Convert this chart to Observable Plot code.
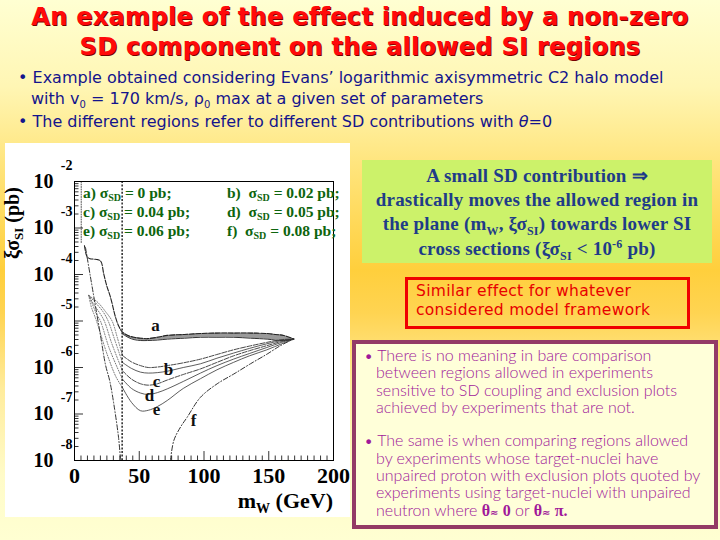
<!DOCTYPE html>
<html><head><meta charset="utf-8">
<script src="https://cdn.jsdelivr.net/npm/d3@7"></script>
<script src="https://cdn.jsdelivr.net/npm/@observablehq/plot@0.6"></script>
<style>
body{margin:0;width:720px;height:540px;overflow:hidden;position:relative;
 background:linear-gradient(to bottom,#FFFFD2 0%,#FFF6B4 16%,#FFE57E 30%,#FFCF3C 50%,#FFD452 58%,#FFEC9C 72%,#FFFBC8 88%,#FFFFD2 100%);
 font-family:"DejaVu Sans",sans-serif;}
.abs{position:absolute;}
sub,sup{line-height:0;}
#title{top:2px;left:0;width:720px;text-align:center;color:#FF0A0A;font-weight:bold;font-size:24px;line-height:30px;letter-spacing:0.3px;
 text-shadow:1px 1px 0 #7a0000;}
.bul{color:#14148C;font-size:16px;white-space:nowrap;}
#green{left:362px;top:160px;width:350px;height:103px;background:#CCF26A;text-align:center;color:#1F3C88;
 font-family:"Liberation Serif",serif;font-weight:bold;font-size:19px;line-height:24.2px;letter-spacing:0.2px;box-sizing:border-box;padding-top:4px;white-space:nowrap;}
#red{left:405px;top:277px;width:285px;height:52px;border:3px solid #F00000;box-sizing:border-box;color:#E80000;
 font-size:15.5px;line-height:18.5px;padding:2px 0 0 8px;letter-spacing:0.3px;white-space:nowrap;}
#purple{left:352px;top:340px;width:366px;height:189px;border:4px solid #943A66;box-sizing:border-box;background:#FFFFD9;
 color:#A0189A;font-family:"Lato","DejaVu Sans",sans-serif;font-weight:300;font-size:16px;line-height:17.4px;padding:2px 4px 0 7px;white-space:nowrap;}
#purple p{margin:0 0 15.5px 0;padding-left:13px;text-indent:-12px;}
.sym{font-family:"Liberation Serif",serif;font-weight:bold;}
.approx{font-family:"DejaVu Sans",sans-serif;font-weight:bold;font-size:10px;}
#chart{left:5px;top:143px;}
</style></head><body>
<div id="title" class="abs">An example of the effect induced by a non-zero<br>SD component on the allowed SI regions</div>
<div class="abs bul" style="left:18px;top:68px;">• Example obtained considering Evans’ logarithmic axisymmetric C2 halo model</div>
<div class="abs bul" style="left:31px;top:89px;">with v<sub style="font-size:10px">0</sub> = 170 km/s, ρ<sub style="font-size:10px">0</sub> max at a given set of parameters</div>
<div class="abs bul" style="left:18px;top:112px;">• The different regions refer to different SD contributions with <i>θ</i>=0</div>
<div id="green" class="abs">A small SD contribution ⇒<br>drastically moves the allowed region in<br>the plane (m<sub style="font-size:12px">W</sub>, ξσ<sub style="font-size:12px">SI</sub>) towards lower SI<br>cross sections (ξσ<sub style="font-size:12px">SI</sub> &lt; 10<sup style="font-size:12px">-6</sup> pb)</div>
<div id="red" class="abs">Similar effect for whatever<br>considered model framework</div>
<div id="purple" class="abs">
<p>• There is no meaning in bare comparison<br>between regions allowed in experiments<br>sensitive to SD coupling and exclusion plots<br>achieved by experiments that are not.</p>
<p>• The same is when comparing regions allowed<br>by experiments whose target-nuclei have<br>unpaired proton with exclusion plots quoted by<br>experiments using target-nuclei with unpaired<br>neutron where <span class="sym">θ</span><span class="approx">≈</span> <span class="sym">0</span> or <span class="sym">θ</span><span class="approx">≈</span> <span class="sym">π.</span></p>
</div>
<div id="chart" class="abs"></div>
<script>
// ---- data (mW in GeV, log10 of xi*sigma_SI in pb) ----
const xTicks = [0, 50, 100, 150, 200];
const yDecades = [-8, -7, -6, -5, -4, -3, -2];
const envLeft = [[7.7,-3.38],[8.6,-3.52],[9.8,-3.62],[12,-3.66],[15,-3.67],[18,-3.68],[20.4,-3.72],[22.6,-3.99],[25,-4.25],[27.8,-4.49],[31.7,-4.92],[34.3,-5.12]];
const bandX = [37.1,42,46,51.2,56.3,64,71.7,85,97.3,110,123,136,148.8,155,161.6,169.3];
const bandTop = [-5.24,-5.32,-5.35,-5.37,-5.38,-5.35,-5.31,-5.29,-5.27,-5.26,-5.26,-5.26,-5.27,-5.29,-5.31,-5.39];
const bandBottom = [-5.28,-5.36,-5.40,-5.42,-5.42,-5.41,-5.39,-5.37,-5.35,-5.35,-5.35,-5.37,-5.39,-5.41,-5.42,-5.39];
const lowerX = [37,44,51,57,64,71.6,84,97.3,110,122.8,135,148.5,160,169.3];
const lower1 = [-5.74,-5.88,-5.96,-6.00,-5.99,-5.96,-5.90,-5.82,-5.72,-5.62,-5.54,-5.46,-5.40,-5.39];
const lower2 = [-5.89,-6.02,-6.10,-6.12,-6.11,-6.08,-6.00,-5.92,-5.80,-5.69,-5.59,-5.49,-5.42,-5.39];
const lower3 = [-6.07,-6.25,-6.35,-6.38,-6.35,-6.27,-6.15,-6.03,-5.89,-5.75,-5.64,-5.53,-5.44,-5.39];
const lower4 = [-6.25,-6.45,-6.55,-6.58,-6.54,-6.46,-6.30,-6.12,-5.96,-5.82,-5.70,-5.57,-5.46,-5.39];
const lower5 = [-6.43,-6.75,-6.93,-6.92,-6.84,-6.71,-6.45,-6.24,-6.05,-5.89,-5.75,-5.62,-5.49,-5.39];
const left1 = [[11,-4.45],[18,-4.6],[24,-4.8],[29,-5.0],[33,-5.35],[37,-5.74]];
const left2 = [[11,-4.45],[16,-4.6],[22,-4.8],[26,-5.0],[31,-5.4],[37,-5.89]];
const left3 = [[11,-4.45],[15,-4.65],[20,-4.85],[23,-5.0],[29,-5.5],[37,-6.07]];
const left4 = [[11,-4.45],[14,-4.65],[17,-4.85],[20,-5.0],[27,-5.6],[37,-6.25]];
const left5 = [[11,-4.45],[13,-4.7],[15,-4.85],[17,-5.0],[25,-5.7],[32,-6.2],[37,-6.43]];
const fLeft = [[8.5,-3.42],[12,-4.0],[16,-4.65],[20,-5.3],[24,-5.95],[27.3,-6.3],[31,-6.9],[34,-7.5],[35.5,-7.93],[36,-8.0]];
const fRight = [[74.1,-8.0],[76.7,-7.57],[81.9,-7.28],[87,-7.07],[97.3,-6.64],[110.2,-6.35],[123,-6.14],[135.9,-5.92],[148.8,-5.71],[159,-5.53],[166.8,-5.42],[169.3,-5.39]];
const threshold = 36.8;           // vertical dashed line (GeV)
const leftEdge = [[5.2,-2.0],[5.2,-3.34]];
const curveLabels = ["a","b","c","d","e","f"];
const labelX = [62.5,72.6,63.3,57.9,63.3,91.9];
const labelLog = [-5.10,-6.04,-6.30,-6.60,-6.91,-7.15];
const legendLetters = ["a)","b)","c)","d)","e)","f)"];
const legendValues = ["0","0.02","0.04","0.05","0.06","0.08"];

// ---- build tables ----
const P = (arr, id) => arr.map(([x, l]) => ({x, y: 10 ** l, id}));
const Z = (xs, ls, id) => xs.map((x, i) => ({x, y: 10 ** ls[i], id}));
const band = bandX.map((x, i) => ({x, hi: 10 ** bandTop[i], lo: 10 ** bandBottom[i]}));
const envelope = P(envLeft, "env").concat(Z(bandX, bandTop, "env"));
const bandLow = Z(bandX, bandBottom, "low");
const lowers = [lower1, lower2, lower3, lower4, lower5];
const solidLower = lowers.flatMap((l, i) => Z(lowerX, l, "L" + i));
const dotted = [left1, left2, left3, left4, left5].flatMap((a, i) => P(a, "D" + i));
const labels = curveLabels.map((t, i) => ({t, x: labelX[i], y: 10 ** labelLog[i]}));

const xMinor = d3.range(0, 201, 5).map(v => ({v, major: v % 50 === 0}));
const yMinor = [];
for (let k = -8; k < -2; k++) for (let m = 1; m <= 9; m++) yMinor.push({v: m * 10 ** k, major: m === 1});
const pxPerDec = 280 / 6, pxPerGeV = 259 / 200;

const serif = "Liberation Serif, Times New Roman, serif";
const chart = Plot.plot({
  width: 345, height: 374,
  marginLeft: 69, marginRight: 17, marginTop: 38, marginBottom: 57,
  style: {background: "white", fontFamily: serif, overflow: "visible"},
  x: {domain: [0, 200]},
  y: {type: "log", domain: [1e-8, 1e-2]},
  marks: [
    Plot.areaY(band, {x: "x", y1: "lo", y2: "hi", fill: "#9a9a9a", curve: "catmull-rom"}),
    Plot.line(dotted, {x: "x", y: "y", z: "id", stroke: "#666", strokeWidth: 0.9, strokeDasharray: "1,1.6", curve: "catmull-rom"}),
    Plot.line(solidLower.filter(d => d.id === "L0" || d.id === "L2"), {x: "x", y: "y", z: "id", stroke: "#333", strokeWidth: 0.9, strokeDasharray: "5,1.5", curve: "catmull-rom"}),
    Plot.line(solidLower.filter(d => d.id !== "L0" && d.id !== "L2"), {x: "x", y: "y", z: "id", stroke: "#333", strokeWidth: 0.8, curve: "catmull-rom"}),
    Plot.line(envelope, {x: "x", y: "y", stroke: "#222", strokeWidth: 1.1, strokeDasharray: "5,1.5", curve: "catmull-rom"}),
    Plot.line(bandLow, {x: "x", y: "y", stroke: "#333", strokeWidth: 1, curve: "catmull-rom"}),
    Plot.line(P(fLeft, "fl"), {x: "x", y: "y", stroke: "#333", strokeWidth: 1, strokeDasharray: "5,2,1,2", curve: "catmull-rom"}),
    Plot.line(P(fRight, "fr"), {x: "x", y: "y", stroke: "#333", strokeWidth: 1, strokeDasharray: "5,2,1,2", curve: "catmull-rom"}),
    Plot.line(P(leftEdge, "edge"), {x: "x", y: "y", stroke: "#555", strokeWidth: 1, strokeDasharray: "1,1.5"}),
    Plot.ruleX([threshold], {stroke: "#333", strokeWidth: 1.6, strokeDasharray: "2,1.6"}),
    Plot.ruleX(xMinor, {x: "v", y1: 1e-8, y2: d => 1e-8 * 10 ** ((d.major ? 9 : 4.5) / pxPerDec), stroke: "black", strokeWidth: 0.8}),
    Plot.ruleY(yMinor, {y: "v", x1: 0, x2: d => (d.major ? 9 : 4.5) / pxPerGeV, stroke: "black", strokeWidth: 0.8}),
    Plot.frame({stroke: "black", strokeWidth: 1}),
    Plot.text(labels, {x: "x", y: "y", text: "t", fontSize: 17, fontWeight: "bold", fill: "#111"}),
    Plot.axisX({ticks: xTicks, tickSize: 0, tickPadding: 7, fontSize: 22, fontWeight: "bold", fill: "black", label: null}),
    Plot.axisY({ticks: yDecades.map(k => 10 ** k), tickSize: 0, tickPadding: 21, tickFormat: () => "10", fontSize: 20, fontWeight: "bold", fill: "black", label: null}),
    Plot.axisY({ticks: yDecades.map(k => 10 ** k), tickSize: 0, tickPadding: 2, dy: -16, tickFormat: d => String(Math.round(Math.log10(d))), fontSize: 14, fontWeight: "bold", fill: "black", label: null})
  ]
});
document.getElementById("chart").appendChild(chart);

// ---- text with subscripts ----
const svg = d3.select(chart);
const yl = svg.append("text").attr("transform", "translate(14,80) rotate(-90)").attr("text-anchor", "middle")
  .attr("font-family", serif).attr("font-weight", "bold").attr("font-size", 20).attr("fill", "black");
yl.append("tspan").text("ξσ");
yl.append("tspan").attr("dy", 4).attr("font-size", 13).text("SI");
yl.append("tspan").attr("dy", -4).text(" (pb)");
const xl = svg.append("text").attr("x", 328).attr("y", 365).attr("text-anchor", "end")
  .attr("font-family", serif).attr("font-weight", "bold").attr("font-size", 22).attr("fill", "black");
xl.append("tspan").text("m");
xl.append("tspan").attr("dy", 5).attr("font-size", 14).text("W");
xl.append("tspan").attr("dy", -5).text(" (GeV)");
legendLetters.forEach((lt, i) => {
  const col = i % 2, row = Math.floor(i / 2);
  const t = svg.append("text").attr("x", col ? 222 : 78).attr("y", 55 + row * 19).attr("text-anchor", "start")
    .attr("font-family", serif).attr("font-weight", "bold").attr("font-size", 15.5).attr("fill", "#0E650E");
  t.append("tspan").text(lt + (col ? "  " : " ") + "σ");
  t.append("tspan").attr("dy", 3).attr("font-size", 10).text("SD");
  t.append("tspan").attr("dy", -3).text(" = " + legendValues[i] + " pb;");
});
</script>
</body></html>
